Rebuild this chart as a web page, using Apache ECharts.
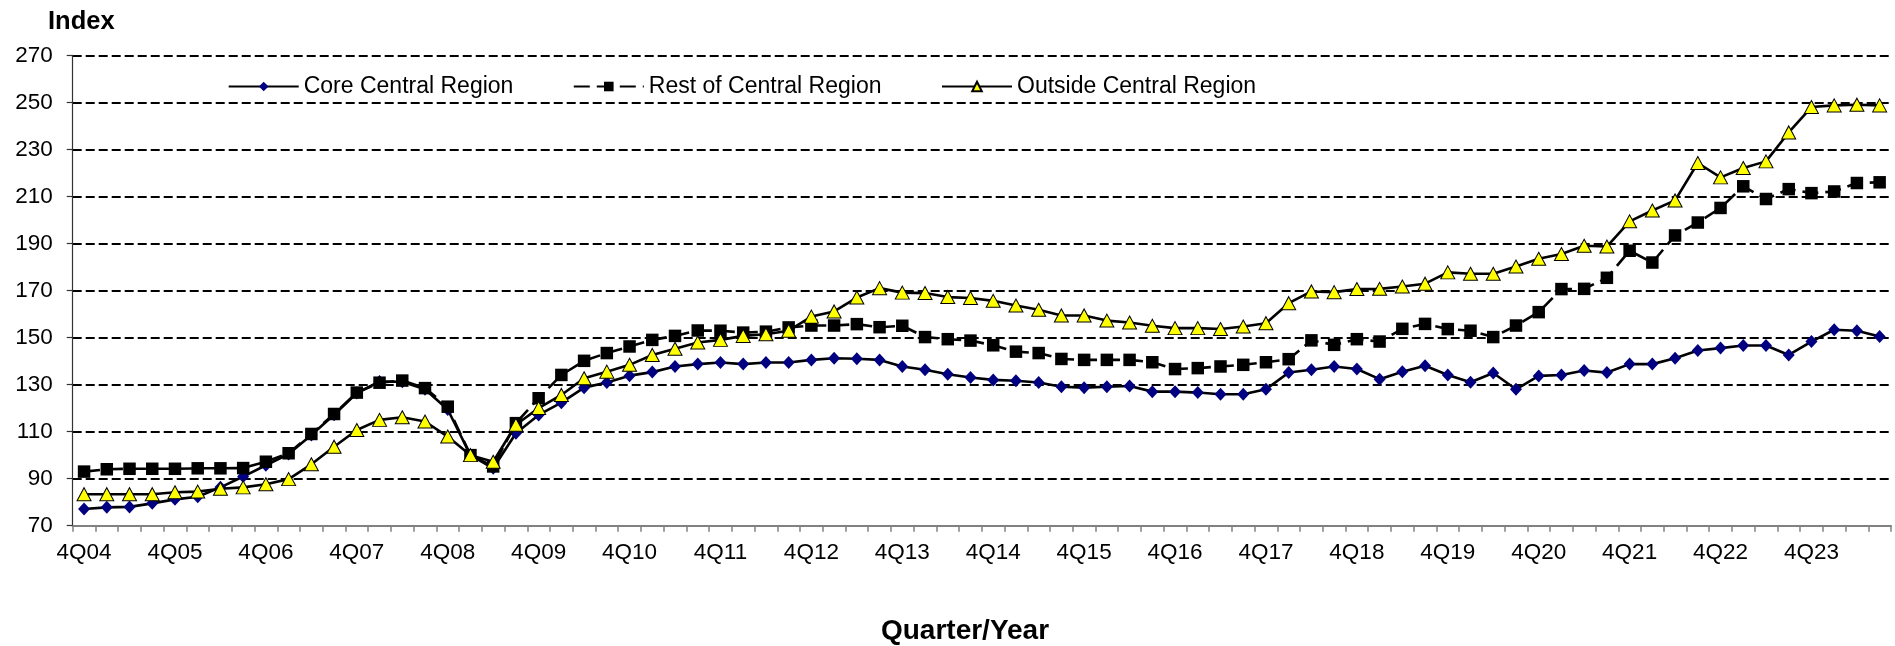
<!DOCTYPE html>
<html>
<head>
<meta charset="utf-8">
<script src="https://cdn.jsdelivr.net/npm/echarts@6/dist/echarts.min.js"></script>
<style>
html,body{margin:0;padding:0;background:#fff;}
#chart{width:1895px;height:646px;}
</style>
</head>
<body>
<div id="chart"></div>
<script>
const categories = [
"4Q04","1Q05","2Q05","3Q05","4Q05","1Q06","2Q06","3Q06","4Q06","1Q07","2Q07","3Q07","4Q07",
"1Q08","2Q08","3Q08","4Q08","1Q09","2Q09","3Q09","4Q09","1Q10","2Q10","3Q10","4Q10",
"1Q11","2Q11","3Q11","4Q11","1Q12","2Q12","3Q12","4Q12","1Q13","2Q13","3Q13","4Q13",
"1Q14","2Q14","3Q14","4Q14","1Q15","2Q15","3Q15","4Q15","1Q16","2Q16","3Q16","4Q16",
"1Q17","2Q17","3Q17","4Q17","1Q18","2Q18","3Q18","4Q18","1Q19","2Q19","3Q19","4Q19",
"1Q20","2Q20","3Q20","4Q20","1Q21","2Q21","3Q21","4Q21","1Q22","2Q22","3Q22","4Q22",
"1Q23","2Q23","3Q23","4Q23","1Q24","2Q24","3Q24"
];

const coreCentral = [
77.1,77.8,78.0,79.5,81.2,82.3,86.3,90.9,95.7,100.5,108.6,117.2,126.4,
131.3,131.2,128.0,119.4,100.0,94.4,109.3,117.1,122.3,128.7,130.9,133.8,
135.3,137.7,138.7,139.4,138.7,139.4,139.4,140.5,141.2,141.0,140.5,137.7,
136.3,134.4,133.0,132.0,131.6,130.9,129.1,128.7,129.1,129.4,127.0,127.0,
126.6,125.9,125.9,128.0,135.1,136.3,137.7,136.6,132.3,135.5,138.0,134.1,
131.0,134.9,128.0,133.7,134.1,136.0,135.1,138.7,138.7,141.2,144.5,145.5,
146.6,146.6,142.6,148.3,153.3,152.9,150.4
];

const restOfCentral = [
93.0,94.0,94.2,94.2,94.2,94.4,94.4,94.5,97.2,100.8,109.0,117.5,126.6,
130.8,131.7,128.5,120.6,100.0,95.2,113.6,124.2,134.1,140.1,143.4,146.2,
149.0,150.7,153.0,152.9,152.1,152.5,154.3,155.1,155.1,155.7,154.4,155.0,
150.2,149.3,148.7,146.7,144.0,143.4,140.9,140.5,140.5,140.5,139.5,136.6,
137.0,137.7,138.4,139.5,140.8,148.8,146.9,149.3,148.3,153.7,155.8,153.6,
152.9,150.2,155.1,160.8,170.6,170.7,175.4,186.9,181.9,193.4,198.9,205.1,
214.3,208.9,213.1,211.4,212.1,215.7,216.0
];

const outsideCentral = [
83.4,83.4,83.4,83.4,84.2,84.5,85.7,86.3,87.6,89.8,96.1,103.6,110.7,
115.0,116.1,114.3,107.9,100.0,97.2,112.9,120.0,125.6,132.7,135.5,138.4,
142.6,145.2,147.9,149.0,150.7,151.4,152.9,158.9,161.1,167.0,171.0,169.1,
168.9,167.2,166.8,165.6,163.6,161.8,159.4,159.4,157.2,156.4,155.0,154.0,
154.0,153.6,154.7,156.1,164.6,169.6,169.3,170.6,170.7,171.7,172.9,177.7,
177.1,177.1,180.2,183.5,185.5,189.0,188.7,199.4,204.0,208.3,224.2,218.1,
222.1,224.9,237.2,248.0,248.7,249.0,248.7
];

const seriesNames = ["Core Central Region", "Rest of Central Region", "Outside Central Region"];
const yTicks = { min: 70, max: 270, step: 20 };

const FONT = "'Liberation Sans', Arial, sans-serif";

const chart = echarts.init(document.getElementById('chart'), null, { renderer: 'canvas' });

function legendAt(name, left) {
  return {
    data: [name],
    left: left,
    top: 75,
    padding: 0,
    itemWidth: 70,
    itemHeight: 12,
    itemGap: 0,
    textStyle: { fontFamily: FONT, fontSize: 23, color: '#000' },
    selectedMode: false
  };
}

const option = {
  backgroundColor: '#fff',
  animation: false,
  title: [
    { text: 'Index', left: 48, top: 9, padding: 0, textStyle: { fontFamily: FONT, fontSize: 25.5, fontWeight: 'bold', color: '#000' } },
    { text: 'Quarter/Year', left: 965, top: 617, padding: 0, textAlign: 'center', textStyle: { fontFamily: FONT, fontSize: 28, fontWeight: 'bold', color: '#000' } }
  ],
  legend: [
    legendAt(seriesNames[0], 227.7),
    legendAt(seriesNames[1], 572.8),
    legendAt(seriesNames[2], 941)
  ],
  grid: { left: 72.7, right: 4, top: 55.3, bottom: 120.3, containLabel: false },
  xAxis: {
    type: 'category',
    data: categories,
    boundaryGap: true,
    axisLine: { show: true, lineStyle: { color: '#808080', width: 2 } },
    axisTick: { show: true, interval: 0, length: 6, alignWithLabel: false, lineStyle: { color: '#808080', width: 1.5 } },
    axisLabel: { interval: 3, margin: 16, fontFamily: FONT, fontSize: 22.5, color: '#000' },
    splitLine: { show: false }
  },
  yAxis: {
    type: 'value',
    min: yTicks.min,
    max: yTicks.max,
    interval: yTicks.step,
    axisLine: { show: true, lineStyle: { color: '#333', width: 1.2 } },
    axisTick: { show: true, length: 6, lineStyle: { color: '#333', width: 1.2 } },
    axisLabel: { margin: 20, fontFamily: FONT, fontSize: 22.5, color: '#000' },
    splitLine: { show: true, lineStyle: { color: '#000', width: 2.2, type: [9, 4] } }
  },
  series: [
    {
      name: seriesNames[0],
      type: 'line',
      data: coreCentral,
      symbol: 'diamond',
      symbolSize: [12, 13],
      showAllSymbol: true,
      lineStyle: { color: '#000', width: 2.6 },
      itemStyle: { color: '#000080', borderWidth: 0 },
      z: 2
    },
    {
      name: seriesNames[1],
      type: 'line',
      data: restOfCentral,
      symbol: 'rect',
      symbolSize: 12.5,
      showAllSymbol: true,
      lineStyle: { color: '#000', width: 2.6, type: [16, 7] },
      itemStyle: { color: '#000', borderWidth: 0 },
      z: 3
    },
    {
      name: seriesNames[2],
      type: 'line',
      data: outsideCentral,
      symbol: 'triangle',
      symbolSize: [14, 13],
      showAllSymbol: true,
      lineStyle: { color: '#000', width: 2.6 },
      itemStyle: { color: '#FFFF00', borderColor: '#000', borderWidth: 1 },
      z: 4
    }
  ]
};

chart.setOption(option);
</script>
</body>
</html>
